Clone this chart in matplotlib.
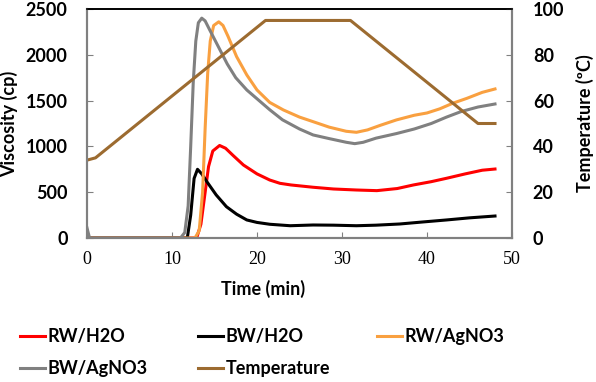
import matplotlib.pyplot as plt

# time (min) / viscosity (cp) pairs
t_rw_h2o = [0, 12.9, 13.4, 13.9, 14.3, 14.8, 15.6, 16.3, 17.2, 18.4, 20, 21.5, 22.7, 24,
            26.6, 29, 31.7, 34.1, 36.5, 38.4, 40.5, 42.3, 44.5, 46.5, 48]
v_rw_h2o = [0, 0, 150, 500, 780, 950, 1010, 980, 900, 797, 700, 633, 597, 579,
            554, 535, 524, 517, 540, 579, 615, 652, 700, 740, 753]

t_bw_h2o = [0, 11.8, 12.2, 12.6, 13.0, 13.5, 14.1, 15.2, 16.4, 17.6, 18.8, 20, 21.5, 23.9,
            26.6, 29, 31.7, 34, 36.8, 39.5, 42.3, 45, 48]
v_bw_h2o = [0, 0, 250, 650, 750, 700, 615, 470, 342, 260, 197, 170, 150, 134,
            142, 140, 134, 140, 153, 175, 197, 220, 240]

t_rw_ag = [0, 12.7, 13.2, 13.6, 13.9, 14.2, 14.5, 14.9, 15.5, 16.0, 16.6, 17.6, 18.8, 20,
           21.5, 23.1, 25, 26.6, 28.5, 30.5, 31.7, 33, 34.5, 36.4, 38.5, 40, 41.5, 43,
           44.7, 46.5, 48]
v_rw_ag = [0, 0, 80, 500, 1200, 1800, 2150, 2320, 2360, 2320, 2200, 1980, 1780, 1616,
           1480, 1398, 1320, 1270, 1210, 1165, 1154, 1180, 1230, 1289, 1340, 1365, 1410, 1470,
           1525, 1590, 1627]

t_bw_ag = [0, 0.3, 11.0, 11.5, 11.9, 12.2, 12.5, 12.8, 13.1, 13.5, 13.9, 14.5, 15.5, 16.5,
           17.5, 18.8, 20, 21.5, 23, 25, 26.6, 28.5, 30.5, 31.5, 32.5, 34, 36.4, 38.5,
           40.5, 42.3, 44, 46, 48]
v_bw_ag = [110, 0, 0, 60, 350, 1000, 1700, 2150, 2350, 2400, 2370, 2260, 2080, 1900,
           1750, 1616, 1520, 1400, 1290, 1190, 1125, 1085, 1045, 1030, 1045, 1090, 1140, 1190,
           1250, 1320, 1380, 1430, 1463]

t_temp = [0, 1, 21, 31, 46, 48]
temp = [34, 35, 95, 95, 50, 50]

fig = plt.figure(figsize=(5.96, 3.82), dpi=100)
ax = fig.add_axes([87 / 596, 1 - 238 / 382, 425 / 596, 229 / 382])
ax2 = ax.twinx()

lw = 2.2
l1, = ax.plot(t_rw_h2o, v_rw_h2o, color="#FF0000", lw=lw, label="RW/H2O")
l2, = ax.plot(t_bw_h2o, v_bw_h2o, color="black", lw=lw, label="BW/H2O")
l3, = ax.plot(t_rw_ag, v_rw_ag, color="#F9A040", lw=lw, label="RW/AgNO3")
l4, = ax.plot(t_bw_ag, v_bw_ag, color="#808080", lw=lw, label="BW/AgNO3")
l5, = ax2.plot(t_temp, temp, color="#9C6B30", lw=lw, label="Temperature")

ax.set_xlim(0, 50)
ax.set_ylim(0, 2500)
ax2.set_ylim(0, 100)
ax.set_xticks(range(0, 51, 10))
ax.set_yticks(range(0, 2501, 500))
ax2.set_yticks(range(0, 101, 20))

grey = "#808080"
for a in (ax, ax2):
    for side in ("left", "right", "bottom"):
        a.spines[side].set_color(grey)
        a.spines[side].set_linewidth(1.5)
    a.spines["top"].set_color("black")
    a.spines["top"].set_linewidth(1.2)

bold = dict(family="Lato", weight="bold", size=13)
ax.tick_params(axis="x", direction="in", length=4, color=grey, pad=9)
ax.tick_params(axis="y", direction="in", length=4, color=grey, pad=14)
ax2.tick_params(axis="y", direction="in", length=4, color=grey, pad=15)
for lab in ax.get_xticklabels():
    lab.set_fontfamily("Liberation Serif")
    lab.set_fontsize(13)
for lab in ax.get_yticklabels() + ax2.get_yticklabels():
    lab.set_fontproperties(bold)

ax.set_ylabel("Viscosity (cp)", **bold)
ax2.set_ylabel("Temperature (ºC)", **bold)
ax.yaxis.set_label_coords(-69 / 425, 0.5)
ax2.yaxis.set_label_coords(1 + 64 / 425, 0.5)
ax.set_xlabel("Time (min)", **bold)
ax.xaxis.set_label_coords((263 - 87) / 425, -42 / 229)

# legend laid out as three columns, filled row by row
columns = [([l1, l4], 20), ([l2, l5], 198), ([l3], 377)]
for hs, x0 in columns:
    fig.legend(hs, [h.get_label() for h in hs], loc="upper left",
               bbox_to_anchor=(x0 / 596, 1 - 328 / 382), borderaxespad=0,
               borderpad=0, frameon=False, prop=bold, handlelength=1.4,
               handletextpad=0.12, labelspacing=0.85)

plt.savefig("out.png", dpi=100)
